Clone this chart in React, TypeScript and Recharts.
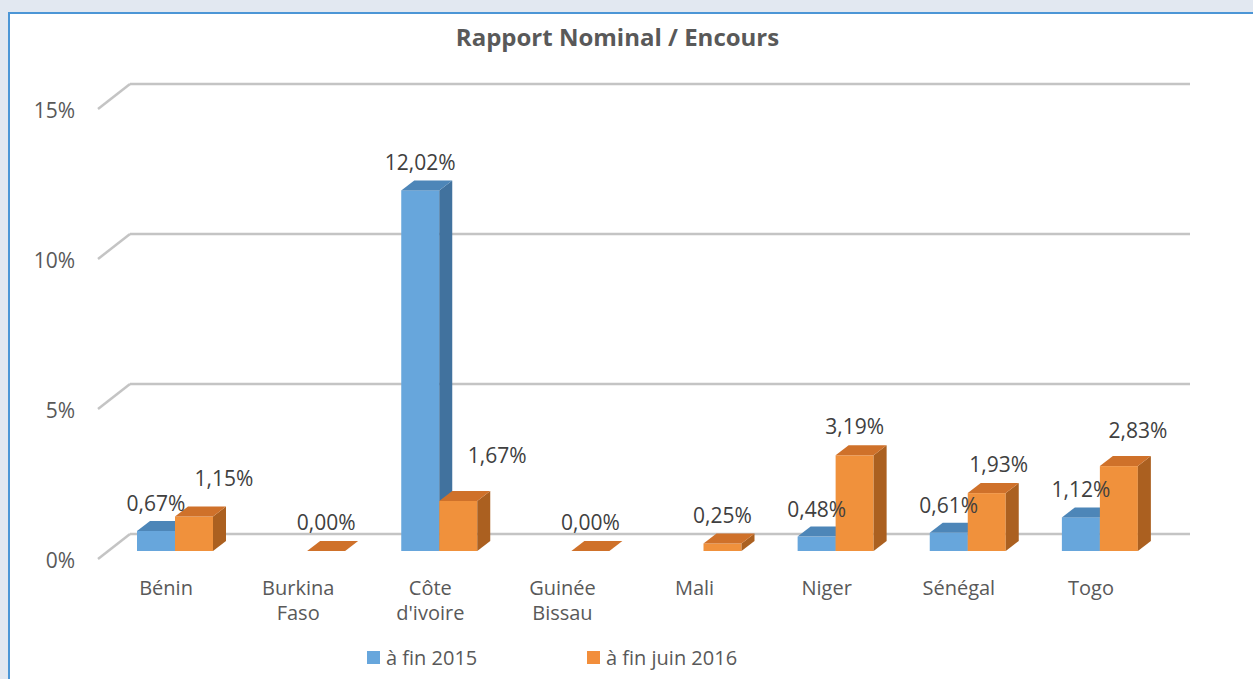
import React from 'react';
import { BarChart, Bar, XAxis, YAxis, CartesianGrid, Legend, LabelList } from 'recharts';

const countries = ['Bénin', 'Burkina Faso', "Côte d'ivoire", 'Guinée Bissau', 'Mali', 'Niger', 'Sénégal', 'Togo'];
const fin2015 = [0.67, null, 12.02, null, null, 0.48, 0.61, 1.12];
const finJuin2016 = [1.15, 0, 1.67, 0, 0.25, 3.19, 1.93, 2.83];
const yTicks = [0, 5, 10, 15];
const seriesNames = ['à fin 2015', 'à fin juin 2016'];

const data = countries.map((name, i) => ({ name, a: fin2015[i], b: finJuin2016[i] }));

const TEXT = '#595959';
const FONT = '"Open Sans", sans-serif';
const DX = 13;
const DY = -10;

const BLUE = { front: '#67a6dc', top: '#4d86b8', side: '#41729e' };
const ORANGE = { front: '#f0913c', top: '#cf712a', side: '#ab6020' };

// label nudges (Excel moved a few labels to avoid overlaps)
const shiftA: Record<number, [number, number]> = { 6: [-12, 0] };
const shiftB: Record<number, [number, number]> = { 0: [30, -10], 2: [39, -17], 6: [12, 0], 7: [19, -7] };

function Box3D(props: any) {
  const { x, y, width, height, colors, payload, dataKey } = props;
  if (payload == null || payload[dataKey] == null) return null;
  const w = width;
  const h = Math.max(height, 0);
  return (
    <g>
      <rect x={x} y={y} width={w} height={h} fill={colors.front} />
      <polygon
        points={`${x + w},${y} ${x + w + DX},${y + DY} ${x + w + DX},${y + h + DY} ${x + w},${y + h}`}
        fill={colors.side}
      />
      <polygon
        points={`${x},${y} ${x + w},${y} ${x + w + DX},${y + DY} ${x + DX},${y + DY}`}
        fill={colors.top}
      />
    </g>
  );
}

function makeLabel(shifts: Record<number, [number, number]>, base: number) {
  return (props: any) => {
    const { x, y, width, value, index } = props;
    if (value == null) return null;
    const s = shifts[index] || [0, 0];
    const cx = x + width / 2 + s[0];
    const cy = y + base + s[1];
    return (
      <text x={cx} y={cy + 7} textAnchor="middle" fontSize={21} fill="#404040" fontFamily={FONT}>
        {Number(value).toFixed(2).replace('.', ',') + '%'}
      </text>
    );
  };
}

function GridLine(props: any) {
  const { x1, x2, y1 } = props;
  return (
    <g key={props.key}>
      <line x1={x1 - 11} y1={y1 + 8} x2={x1 + 21} y2={y1 - 17} stroke="#c4c4c4" strokeWidth={2.5} />
      <line x1={x1 + 21} y1={y1 - 17} x2={x2 + 24} y2={y1 - 17} stroke="#c4c4c4" strokeWidth={2.5} />
    </g>
  );
}

function XTick(props: any) {
  const { x, y, payload } = props;
  const words: string[] = String(payload.value).split(' ');
  return (
    <g>
      {words.map((w, i) => (
        <text key={i} x={x - 9} y={y + 36 + i * 25} textAnchor="middle" fontSize={20} fill={TEXT} fontFamily={FONT}>
          {w}
        </text>
      ))}
    </g>
  );
}

function YTick(props: any) {
  const { y, payload } = props;
  return (
    <text x={67} y={y + 17} textAnchor="end" fontSize={21} fill={TEXT} fontFamily={FONT}>
      {payload.value + '%'}
    </text>
  );
}

function LegendContent() {
  const items = [
    { name: seriesNames[0], color: BLUE.front },
    { name: seriesNames[1], color: '#f28e3b' },
  ];
  return (
    <div style={{ display: 'flex', paddingLeft: 359, paddingTop: 3, fontFamily: FONT, fontSize: 20, color: TEXT }}>
      {items.map((it, i) => (
        <div key={i} style={{ display: 'flex', alignItems: 'center', width: i === 0 ? 220 : 'auto' }}>
          <span style={{ display: 'inline-block', width: 13, height: 13, background: it.color, marginRight: 6 }} />
          <span>{it.name}</span>
        </div>
      ))}
    </div>
  );
}

export default function App() {
  return (
    <div style={{ position: 'absolute', left: 0, top: 0, width: 1253, height: 679, background: '#e2e8f1', overflow: 'hidden' }}>
      <div
        style={{
          position: 'absolute',
          left: 8,
          top: 12,
          width: 1260,
          height: 680,
          background: '#ffffff',
          borderLeft: '2px solid #4c96d6',
          borderTop: '2px solid #4c96d6',
        }}
      />
      <div
        style={{
          position: 'absolute',
          left: 8,
          top: 20,
          width: 1219,
          textAlign: 'center',
          fontFamily: FONT,
          fontWeight: 700,
          fontSize: 24,
          color: TEXT,
        }}
      >
        Rapport Nominal / Encours
      </div>
      <div style={{ position: 'absolute', left: 8, top: 12 }}>
        <BarChart
          width={1245}
          height={667}
          data={data}
          margin={{ top: 89, right: 87, bottom: 8, left: 0 }}
          barGap={0}
          barSize={38}
        >
          <CartesianGrid vertical={false} horizontal={GridLine as any} />
          <XAxis dataKey="name" axisLine={false} tickLine={false} height={90} tick={<XTick />} interval={0} />
          <YAxis
            domain={[0, 15]}
            ticks={yTicks}
            width={101}
            axisLine={false}
            tickLine={false}
            tick={<YTick />}
          />
          <Legend verticalAlign="bottom" content={<LegendContent />} wrapperStyle={{ left: 0, width: 1245, height: 30 }} />
          <Bar dataKey="a" name={seriesNames[0]} isAnimationActive={false} shape={(p: any) => <Box3D {...p} colors={BLUE} dataKey="a" />}>
            <LabelList dataKey="a" content={makeLabel(shiftA, -27)} />
          </Bar>
          <Bar dataKey="b" name={seriesNames[1]} isAnimationActive={false} shape={(p: any) => <Box3D {...p} colors={ORANGE} dataKey="b" />}>
            <LabelList dataKey="b" content={makeLabel(shiftB, -28)} />
          </Bar>
        </BarChart>
      </div>
    </div>
  );
}
